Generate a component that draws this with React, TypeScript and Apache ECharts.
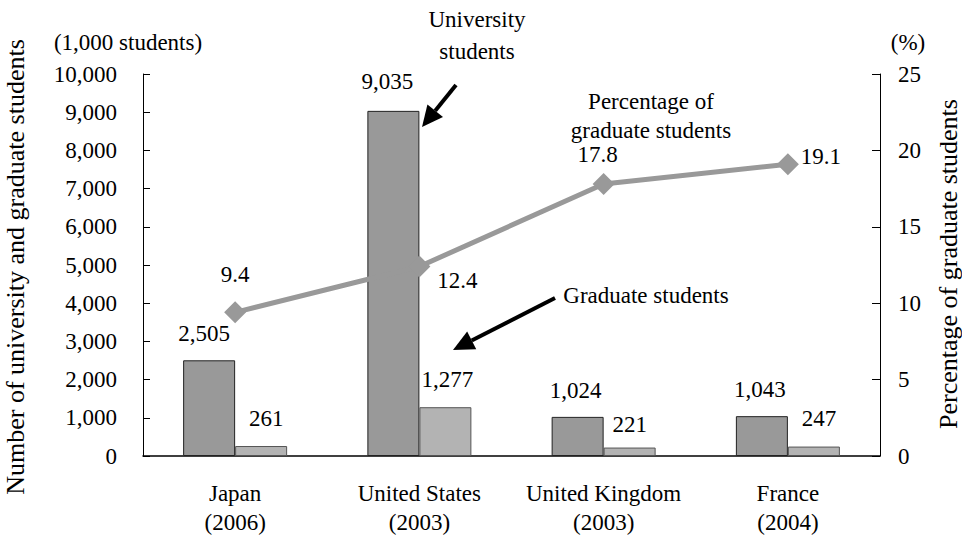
import React, { useEffect, useRef } from "react";
import * as echarts from "echarts";

const categories = ["Japan\n(2006)", "United States\n(2003)", "United Kingdom\n(2003)", "France\n(2004)"];
const universityStudents = [2505, 9035, 1024, 1043];
const graduateStudents = [261, 1277, 221, 247];
const graduatePercentage = [9.4, 12.4, 17.8, 19.1];

// label offsets (styling only)
const uniLabelOffsets = [[-5, -15.5], [-6, -17.5], [-2, -15], [-2, -15]];
const gradLabelOffsets = [[5, -16.5], [2, -16.5], [0, -12], [5, -16.5]];
const pctLabelOffsets = [[0, -38], [38, 14], [-6, -30], [33, -8]];

const FONT = "'Liberation Serif', 'Times New Roman', Times, serif";
const FS = 23;

const fmt = (v: number) => String(v).replace(/\B(?=(\d{3})+(?!\d))/g, ",");

function arrow(x1: number, y1: number, x2: number, y2: number) {
  const dx = x2 - x1, dy = y2 - y1;
  const len = Math.sqrt(dx * dx + dy * dy);
  const ux = dx / len, uy = dy / len;
  const hl = 21, hw = 10;
  const bx = x2 - ux * hl, by = y2 - uy * hl;
  const px = -uy * hw, py = ux * hw;
  return [
    { type: "line", shape: { x1, y1, x2: bx, y2: by }, style: { stroke: "#000", lineWidth: 4 }, z: 100 },
    {
      type: "polygon",
      shape: { points: [[x2, y2], [bx + px, by + py], [bx - px, by - py]] },
      style: { fill: "#000" },
      z: 100,
    },
  ];
}

export default function App() {
  const ref = useRef<HTMLDivElement>(null);
  useEffect(() => {
    if (!ref.current) return;
    const chart = echarts.init(ref.current, null, { renderer: "svg" });
    const txt = { fontFamily: FONT, fontSize: FS, color: "#000" };
    const gtext = (text: string, x: number, y: number, extra: any = {}) => ({
      type: "text",
      x,
      y,
      ...extra,
      style: {
        text,
        fontFamily: FONT,
        fontSize: FS,
        fill: "#000",
        align: "center",
        verticalAlign: "middle",
        ...(extra.style || {}),
      },
    });
    chart.setOption({
      animation: false,
      textStyle: { fontFamily: FONT },
      grid: { left: 143, right: 82, top: 74, bottom: 80, containLabel: false },
      xAxis: {
        type: "category",
        data: categories,
        axisLine: { show: true, lineStyle: { color: "#000", width: 1.5 } },
        axisTick: { show: false },
        axisLabel: { ...txt, margin: 23, lineHeight: 29, interval: 0 },
      },
      yAxis: [
        {
          type: "value",
          min: 0,
          max: 10000,
          interval: 1000,
          position: "left",
          axisLine: { show: true, lineStyle: { color: "#000", width: 1 } },
          axisTick: { show: true, inside: true, length: 7, lineStyle: { color: "#000" } },
          axisLabel: { ...txt, margin: 26, formatter: (v: number) => fmt(v) },
          splitLine: { show: false },
        },
        {
          type: "value",
          min: 0,
          max: 25,
          interval: 5,
          position: "right",
          axisLine: { show: true, lineStyle: { color: "#000", width: 1 } },
          axisTick: { show: true, inside: true, length: 8, lineStyle: { color: "#000" } },
          axisLabel: { ...txt, margin: 18 },
          splitLine: { show: false },
        },
      ],
      series: [
        {
          type: "bar",
          name: "University students",
          data: universityStudents.map((v, i) => ({
            value: v,
            label: { offset: uniLabelOffsets[i] },
          })),
          barWidth: 52,
          barGap: "0%",
          itemStyle: { color: "#999999", borderColor: "#222", borderWidth: 1 },
          label: {
            show: true,
            position: "top",
            distance: 0,
            ...txt,
            lineHeight: 23,
            formatter: (p: any) => fmt(p.value),
          },
        },
        {
          type: "bar",
          name: "Graduate students",
          data: graduateStudents.map((v, i) => ({
            value: v,
            label: { offset: gradLabelOffsets[i] },
          })),
          barWidth: 52,
          barGap: "0%",
          itemStyle: { color: "#b3b3b3", borderColor: "#555", borderWidth: 1 },
          label: {
            show: true,
            position: "top",
            distance: 0,
            ...txt,
            lineHeight: 23,
            formatter: (p: any) => fmt(p.value),
          },
        },
        {
          type: "line",
          name: "Percentage of graduate students",
          yAxisIndex: 1,
          data: graduatePercentage.map((v, i) => ({
            value: v,
            label: { offset: pctLabelOffsets[i] },
          })),
          symbol: "diamond",
          symbolSize: 22,
          lineStyle: { color: "#999999", width: 5 },
          itemStyle: { color: "#999999" },
          z: 5,
          label: {
            show: true,
            position: "inside",
            ...txt,
            formatter: (p: any) => String(p.value),
          },
        },
      ],
      graphic: [
        gtext("(1,000 students)", 128, 42),
        gtext("(%)", 908, 42),
        gtext("Number of university and graduate students", 15, 267, { rotation: Math.PI / 2, style: { fontSize: 26 } }),
        gtext("Percentage of graduate students", 948, 264, { rotation: Math.PI / 2, style: { fontSize: 26 } }),
        gtext("University\nstudents", 477, 35, { style: { lineHeight: 32 } }),
        gtext("Percentage of\ngraduate students", 651, 116, { style: { lineHeight: 29 } }),
        gtext("Graduate students", 646, 295),
        ...arrow(456, 85, 422, 127),
        ...arrow(555, 298, 453, 350),
      ],
    });
    return () => chart.dispose();
  }, []);
  return <div ref={ref} style={{ position: "absolute", left: 0, top: 0, width: 962, height: 537 }} />;
}
